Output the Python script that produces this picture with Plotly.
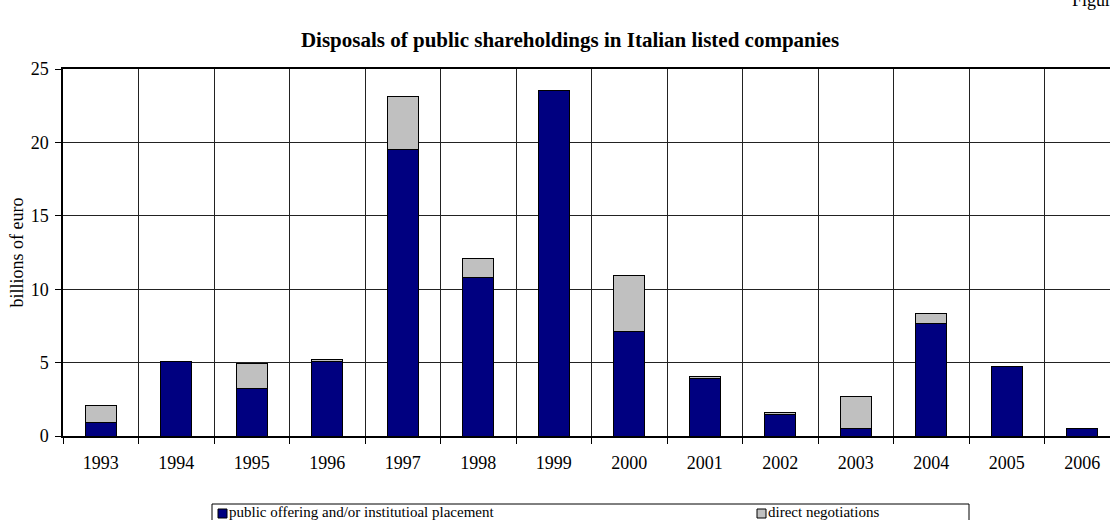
import plotly.graph_objects as go

# Disposals of public shareholdings, billions of euro
years = ["1993", "1994", "1995", "1996", "1997", "1998", "1999",
         "2000", "2001", "2002", "2003", "2004", "2005", "2006"]
public_offering = [0.95, 5.09, 3.27, 5.05, 19.50, 10.77, 23.55,
                   7.09, 3.89, 1.45, 0.52, 7.68, 4.73, 0.52]
direct_negotiations = [1.12, 0.00, 1.64, 0.18, 3.64, 1.34, 0.00,
                       3.84, 0.13, 0.14, 2.14, 0.64, 0.00, 0.00]
series_names = ["public offering and/or institutioal placement",
                "direct negotiations"]

NAVY = "#000080"
SILVER = "#C0C0C0"
SERIF = "Liberation Serif"

W, H = 1110, 520
ML, MT, MB = 63, 69, 84
PW = W - ML          # plot width in px (right edge runs to the page edge)
PH = H - MT - MB     # plot height in px


def px_x(px):
    return (px - ML) / PW


def px_y(py):
    return (MT + PH - py) / PH


fig = go.Figure()
fig.add_trace(go.Bar(x=years, y=public_offering, name=series_names[0],
                     marker=dict(color=NAVY, line=dict(color="black", width=1)),
                     showlegend=False))
fig.add_trace(go.Bar(x=years, y=direct_negotiations, name=series_names[1],
                     marker=dict(color=SILVER, line=dict(color="black", width=1)),
                     showlegend=False))

# category width of ~75.5 px; the last column runs past the right edge
n_visible = PW / 75.5
fig.update_xaxes(
    type="category", range=[-0.5, -0.5 + n_visible],
    tickson="boundaries", ticks="outside", ticklen=6, tickcolor="black",
    ticklabelstandoff=10,
    showgrid=True, gridcolor="#222", gridwidth=1,
    showline=True, linecolor="black", linewidth=1.5, mirror=True,
    tickfont=dict(family=SERIF, size=18, color="black"),
)
fig.update_yaxes(
    range=[0, 25], dtick=5, ticks="outside", ticklen=6, tickcolor="black",
    ticklabelstandoff=3,
    showgrid=True, gridcolor="#222", gridwidth=1,
    showline=True, linecolor="black", linewidth=1.5,
    zeroline=False,
    tickfont=dict(family=SERIF, size=18, color="black"),
    title=dict(text="billions of euro", standoff=2,
               font=dict(family=SERIF, size=18, color="black")),
)

# legend box drawn at the foot of the chart
shapes = [
    dict(type="rect", xref="paper", yref="paper",
         x0=px_x(212), x1=px_x(969), y0=px_y(540), y1=px_y(504),
         line=dict(color="black", width=1), fillcolor="white"),
    dict(type="rect", xref="paper", yref="paper",
         x0=px_x(218), x1=px_x(227), y0=px_y(518), y1=px_y(509),
         line=dict(color="black", width=1), fillcolor=NAVY),
    dict(type="rect", xref="paper", yref="paper",
         x0=px_x(757), x1=px_x(766), y0=px_y(518), y1=px_y(509),
         line=dict(color="black", width=1), fillcolor=SILVER),
]
annotations = [
    dict(text=series_names[0], xref="paper", yref="paper",
         x=px_x(227), y=px_y(512), xanchor="left", yanchor="middle",
         showarrow=False, font=dict(family=SERIF, size=15, color="black")),
    dict(text=series_names[1], xref="paper", yref="paper",
         x=px_x(766), y=px_y(512), xanchor="left", yanchor="middle",
         showarrow=False, font=dict(family=SERIF, size=15, color="black")),
    dict(text="Figure", xref="paper", yref="paper",
         x=px_x(1070), y=px_y(0), xanchor="left", yanchor="middle",
         showarrow=False, font=dict(family=SERIF, size=18, color="black")),
]

fig.update_layout(
    width=W, height=H,
    margin=dict(l=ML, r=0, t=MT, b=MB, autoexpand=False),
    barmode="stack", bargap=0.59,
    plot_bgcolor="white", paper_bgcolor="white",
    title=dict(text="<b>Disposals of public shareholdings in Italian listed companies</b>",
               x=570 / W, xanchor="center", y=1 - 40 / H, yanchor="middle",
               font=dict(family=SERIF, size=21, color="black")),
    shapes=shapes, annotations=annotations,
)

fig.write_html("out.html")
